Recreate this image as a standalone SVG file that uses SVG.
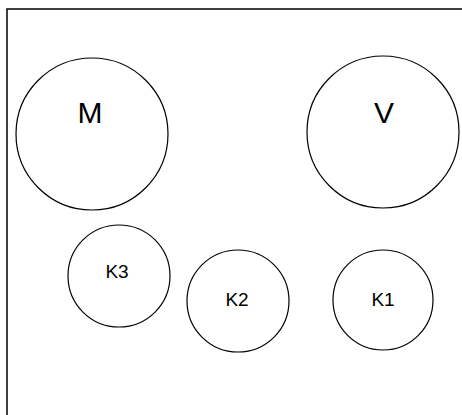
<svg xmlns="http://www.w3.org/2000/svg" width="462" height="415" viewBox="0 0 462 415">
<style>
.n{fill:#fff;stroke:#000;stroke-width:1.2}
.t{font-family:"Liberation Sans",Arial,sans-serif;fill:#000;text-anchor:middle}
.big{font-size:30px}
.small{font-size:19px}
</style>
<rect width="462" height="415" fill="#fff"/>
<rect x="7" y="9" width="500" height="450" fill="none" stroke="#000" stroke-width="1.5"/>
<g id="connectors"></g>
<g id="M"><circle class="n" cx="92" cy="134" r="76"/><text class="t big" x="90" y="123">M</text></g>
<g id="V"><circle class="n" cx="383" cy="132" r="76"/><text class="t big" x="384" y="123">V</text></g>
<g id="K3"><circle class="n" cx="119" cy="276" r="51"/><text class="t small" x="117" y="278">K3</text></g>
<g id="K2"><circle class="n" cx="238" cy="301" r="51"/><text class="t small" x="237" y="306">K2</text></g>
<g id="K1"><circle class="n" cx="383" cy="300" r="50"/><text class="t small" x="383" y="306">K1</text></g>
</svg>
